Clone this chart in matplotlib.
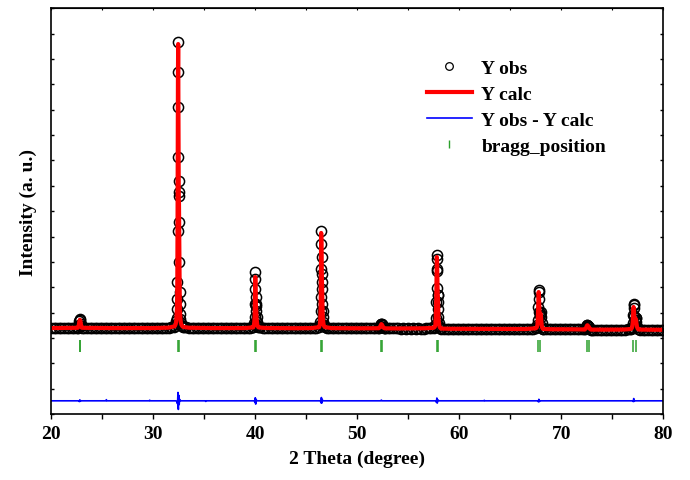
import numpy as np
import matplotlib
matplotlib.use('Agg')
import matplotlib.pyplot as plt
from matplotlib.lines import Line2D
from matplotlib.ticker import MultipleLocator

plt.rcParams['font.family'] = ['Liberation Serif', 'DejaVu Serif']
plt.rcParams['font.weight'] = 'bold'

# Observed background between the reflections (coarse scan, 0.25 deg step)
bg_step = 0.25
bg_start = [20.00, 23.25, 33.00, 40.50, 47.00, 52.75, 58.25, 68.25, 73.00, 77.75]
bg_obs = [
    [392, 388, 395, 390, 386, 393, 389, 394, 391, 398, 405],
    [395, 388, 392, 386, 391, 394, 389, 385, 392, 388, 390, 387, 393, 389, 386, 391, 388, 394,
     390, 387, 392, 389, 385, 391, 388, 393, 390, 386, 392, 389, 395, 391, 398, 405, 415, 435],
    [430, 415, 408, 400, 396, 393, 390, 388, 392, 387, 389, 391, 386, 390, 388, 385, 389, 392,
     387, 384, 388, 391, 386, 389, 393, 395, 402, 415],
    [415, 402, 395, 390, 387, 384, 389, 386, 382, 388, 385, 381, 386, 383, 380, 385, 382, 379,
     384, 381, 388, 395, 408],
    [410, 400, 392, 388, 383, 386, 380, 384, 381, 378, 383, 380, 376, 381, 378, 382, 379, 376,
     380, 383, 386],
    [378, 375, 379, 373, 377, 374, 370, 376, 372, 375, 369, 373, 370, 374, 368, 372, 376, 382, 392],
    [368, 362, 365, 360, 363, 358, 362, 359, 356, 361, 357, 360, 355, 359, 356, 353, 358, 354,
     357, 352, 356, 353, 350, 355, 351, 354, 349, 353, 350, 347, 352, 349, 346, 351, 354, 360, 370],
    [352, 346, 342, 345, 340, 343, 339, 342, 338, 341, 337, 340, 336, 339, 342, 346, 352],
    [328, 332, 326, 330, 325, 329, 324, 328, 323, 327, 326, 324, 328, 332, 338, 346],
    [330, 326, 329, 324, 327, 323, 326, 322, 325, 321],
]

# Fine scan over each reflection: 2theta, observed and calculated intensity
peak_2theta = [
    [22.60, 22.65, 22.70, 22.75, 22.80, 22.85, 22.90, 22.95, 23.00],
    [32.10, 32.20, 32.24, 32.28, 32.32, 32.34, 32.36, 32.38, 32.40, 32.42, 32.44, 32.46, 32.48,
     32.50, 32.52, 32.54, 32.56, 32.58, 32.60, 32.62, 32.66, 32.70, 32.76, 32.84, 32.92],
    [39.80, 39.86, 39.90, 39.94, 39.96, 39.98, 40.00, 40.02, 40.04, 40.06, 40.08, 40.10, 40.12,
     40.16, 40.20, 40.26, 40.32],
    [46.26, 46.32, 46.36, 46.40, 46.42, 46.44, 46.46, 46.48, 46.50, 46.52, 46.54, 46.56, 46.58,
     46.60, 46.62, 46.66, 46.70, 46.76, 46.84],
    [52.10, 52.20, 52.26, 52.32, 52.36, 52.40, 52.46, 52.52, 52.60, 52.70],
    [57.50, 57.60, 57.66, 57.70, 57.74, 57.78, 57.80, 57.82, 57.84, 57.86, 57.88, 57.90, 57.92,
     57.94, 57.96, 58.00, 58.06, 58.12, 58.20],
    [67.50, 67.60, 67.66, 67.70, 67.74, 67.78, 67.80, 67.82, 67.86, 67.90, 67.94, 67.98, 68.02,
     68.06, 68.12, 68.20],
    [72.30, 72.40, 72.46, 72.52, 72.56, 72.60, 72.66, 72.72, 72.80, 72.90],
    [76.80, 76.90, 76.96, 77.00, 77.04, 77.08, 77.10, 77.12, 77.16, 77.20, 77.24, 77.28, 77.32,
     77.36, 77.42, 77.50, 77.60],
]
peak_obs = [
    [410, 445, 510, 650, 745, 690, 560, 460, 410],
    [460, 560, 650, 800, 1140, 1540, 2210, 4220, 7140, 10490, 11670, 9110, 6190,
     5760, 5600, 4570, 3000, 1810, 1340, 950, 750, 600, 520, 470, 440],
    [420, 500, 600, 830, 1340, 2320, 2600, 1930, 1620, 1340, 1250, 1060, 830, 630, 510, 440, 420],
    [430, 520, 640, 1060, 1610, 2720, 4220, 3710, 3190, 2520, 2210, 1930, 1340, 1060, 830, 640,
     520, 460, 430],
    [385, 420, 470, 530, 555, 535, 495, 445, 395, 380],
    [405, 440, 520, 800, 1420, 2640, 3270, 3100, 2700, 1970, 1690, 1700, 1420, 1140, 830, 600,
     460, 405, 375],
    [385, 420, 500, 720, 1220, 1890, 1800, 1540, 1020, 900, 1000, 1010, 820, 580, 420, 360],
    [335, 380, 440, 500, 510, 480, 470, 430, 360, 330],
    [350, 380, 440, 600, 900, 1340, 1300, 1180, 850, 700, 720, 800, 780, 620, 450, 360, 335],
]
peak_calc = [
    [400, 440, 500, 640, 715, 680, 550, 455, 400],
    [460, 550, 640, 820, 1180, 1600, 2400, 4400, 7500, 10300, 11590, 9500, 6500,
     5500, 5300, 4300, 2900, 1850, 1300, 980, 760, 610, 520, 465, 435],
    [415, 495, 610, 860, 1420, 2250, 2400, 2000, 1550, 1300, 1200, 1050, 820, 640, 515, 445, 415],
    [425, 510, 650, 1100, 1700, 2900, 4140, 3800, 3000, 2600, 2300, 1850, 1300, 1000, 820, 640,
     520, 455, 425],
    [382, 415, 465, 525, 545, 530, 490, 440, 393, 378],
    [400, 435, 530, 850, 1500, 2700, 3190, 3050, 2600, 2050, 1750, 1650, 1380, 1100, 800, 590,
     455, 400, 370],
    [380, 415, 510, 760, 1300, 1810, 1750, 1450, 1000, 880, 960, 950, 780, 560, 410, 355],
    [332, 375, 430, 490, 500, 480, 460, 420, 355, 328],
    [348, 375, 450, 620, 950, 1220, 1200, 1100, 820, 680, 700, 760, 740, 600, 440, 355, 332],
]

# Calculated background away from the reflections
calc_bg_2theta = [20.0, 26.0, 30.0, 31.5, 33.5, 36.0, 39.0, 41.0, 44.0, 45.5, 47.5, 50.0,
                  54.0, 56.5, 59.0, 63.0, 66.5, 69.0, 71.5, 74.0, 76.0, 78.5, 80.0]
calc_bg = [390, 389, 390, 405, 402, 388, 390, 392, 383, 388, 388, 380,
           374, 380, 362, 356, 352, 343, 340, 327, 330, 325, 322]

# Difference curve (Y obs - Y calc), shifted down
diff_offset = -2480
diff_2theta = [20.0, 22.70, 22.75, 22.80, 22.85, 22.90, 25.35, 25.40, 25.45, 29.60, 29.65,
               29.70, 32.20, 32.30, 32.38, 32.42, 32.44, 32.46, 32.50, 32.54, 32.58, 32.65,
               35.10, 35.15, 35.20, 39.90, 39.96, 40.00, 40.04, 40.08, 40.15,
               46.38, 46.44, 46.48, 46.52, 46.56, 46.62, 52.30, 52.36, 52.42,
               57.70, 57.76, 57.80, 57.84, 57.90, 58.00, 62.40, 62.45, 62.50,
               67.70, 67.76, 67.80, 67.85, 67.90, 77.00, 77.06, 77.10, 77.15, 77.20, 80.0]
diff_val = [0, 0, -30, 40, -20, 0, 0, 45, 0, 0, 25,
            0, 0, -20, -120, 330, -200, -340, 220, -150, 60, 0,
            0, -25, 0, 0, -60, 120, -130, 60, 0,
            0, -80, 130, -90, 60, 0, 0, 30, 0,
            0, -60, 110, -90, 40, 0, 0, 20, 0,
            0, -40, 60, -30, 0, 0, -30, 90, -20, 0, 0]

# Bragg reflections (Ka1 / Ka2)
bragg_pos = [22.78, 22.84, 32.42, 32.50, 39.98, 40.08, 46.47, 46.59, 52.30, 52.43,
             57.80, 57.96, 67.76, 67.93, 72.50, 72.70, 77.07, 77.30]
bragg_level = -320

# Assemble observed and calculated profiles
obs_x, obs_y = [], []
for start, vals in zip(bg_start, bg_obs):
    for i, v in enumerate(vals):
        obs_x.append(start + i * bg_step)
        obs_y.append(v)
for xs, ys in zip(peak_2theta, peak_obs):
    obs_x.extend(xs)
    obs_y.extend(ys)

calc_x = list(calc_bg_2theta)
calc_y = list(calc_bg)
for xs, ys in zip(peak_2theta, peak_calc):
    calc_x.extend(xs)
    calc_y.extend(ys)
order = np.argsort(calc_x)
calc_x = np.array(calc_x)[order]
calc_y = np.array(calc_y)[order]

# Setup plot
fig = plt.figure(figsize=(6.9, 4.81), dpi=100)
ax = fig.add_axes([0.0743, 0.1372, 0.887, 0.8435])

ax.plot(obs_x, obs_y, ls='none', marker='o', mfc='none', mec='black', ms=7.3, mew=1.1)
ax.plot(calc_x, calc_y, color='red', lw=3)
ax.plot(diff_2theta, np.array(diff_val) + diff_offset, color='blue', lw=1.2)
ax.plot(bragg_pos, [bragg_level] * len(bragg_pos), ls='none', marker='|',
        ms=8.6, mew=1.1, color='#2ca02c')

ax.set_xlim(20, 80)
ax.set_ylim(-3000, 13000)
ax.xaxis.set_major_locator(MultipleLocator(10))
ax.xaxis.set_minor_locator(MultipleLocator(5))
ax.set_yticks(np.arange(-3000, 13001, 1000))
ax.tick_params(axis='x', which='both', direction='out', length=3.6, width=1,
               labelsize=14, pad=4)
ax.tick_params(axis='y', direction='in', left=True, right=True, length=2,
               width=1, labelleft=False)
for s in ax.spines.values():
    s.set_linewidth(1.2)

top = ax.secondary_xaxis('top')
top.xaxis.set_major_locator(MultipleLocator(5))
top.tick_params(direction='in', length=1.5, width=0.8, labeltop=False)

ax.set_xlabel('2 Theta (degree)', fontsize=14, fontweight='bold', labelpad=6)
ax.set_ylabel('Intensity (a. u.)', fontsize=14, fontweight='bold', labelpad=10)

handles = [
    Line2D([], [], ls='none', marker='o', mfc='none', mec='black', ms=5.5, mew=0.9),
    Line2D([], [], color='red', lw=3),
    Line2D([], [], color='blue', lw=1.2),
    Line2D([], [], ls='none', marker='|', color='#2ca02c', ms=6, mew=1),
]
labels = ['Y obs', 'Y calc', 'Y obs - Y calc', 'bragg_position']
ax.legend(handles, labels, loc='upper left', bbox_to_anchor=(427 / 690, 1 - 60 / 481),
          bbox_transform=fig.transFigure, frameon=False, borderpad=0, borderaxespad=0,
          handlelength=2.3, handletextpad=0.5, labelspacing=0.43,
          prop={'family': ['Liberation Serif'], 'weight': 'bold', 'size': 14})

fig.savefig('out.png', dpi=100)
